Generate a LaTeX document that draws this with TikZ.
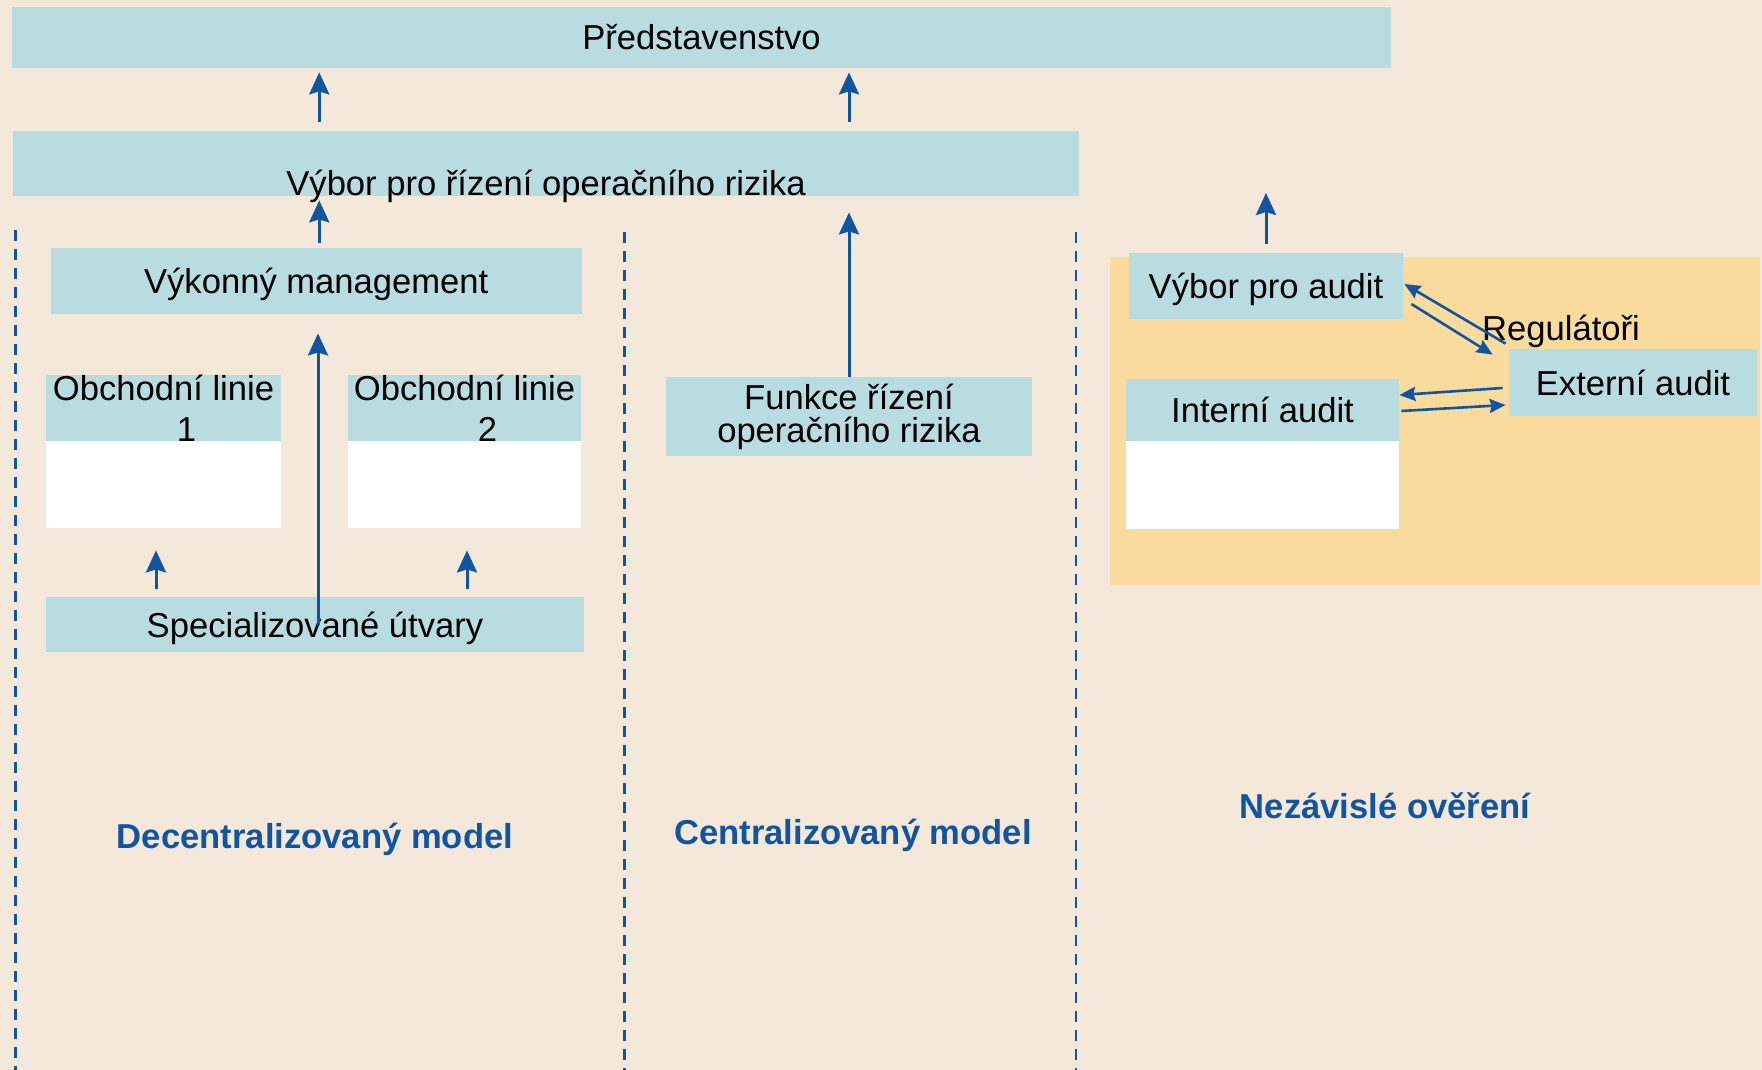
\documentclass[tikz,border=0pt]{standalone}
\usepackage{fontspec}
\setmainfont{Liberation Sans}
\usetikzlibrary{arrows.meta,calc}
\definecolor{paper}{RGB}{244,232,218}
\definecolor{tealbox}{RGB}{184,220,224}
\definecolor{orangezone}{RGB}{249,219,158}
\definecolor{navy}{RGB}{17,84,160}
\begin{document}
\begin{tikzpicture}[x=0.5pt,y=-0.5pt,
  every node/.style={font=\fontsize{17.3pt}{20pt}\selectfont},
  box/.style={fill=tealbox, inner sep=0pt, text height=12.5pt, text depth=0pt},
  mbox/.style={fill=tealbox, inner sep=0pt, align=center},
  blank/.style={fill=white, inner sep=0pt},
  arr/.style={draw=navy, line width=1.5pt, -{Stealth[length=11pt,width=10pt,inset=1.5pt]}},
  sarr/.style={draw=navy, line width=1.3pt, -{Stealth[length=8pt,width=7pt,inset=1pt]}},
  divider/.style={draw=navy, line width=1.3pt, dash pattern=on 5.5pt off 4pt},
  title/.style={text=navy, font=\fontsize{17.3pt}{20pt}\selectfont\bfseries, anchor=base},
]
% canvas
\path[use as bounding box, fill=paper] (0,0) rectangle (1762,1070);

% area of independent verification
\fill[orangezone] (1110,257) rectangle (1760,585);

% column dividers
\coordinate (d1t) at (15.5,230);  \coordinate (d1b) at (15.5,1070);
\coordinate (d2t) at (624.5,232); \coordinate (d2b) at (624.5,1070);
\coordinate (d3t) at (1076,232);  \coordinate (d3b) at (1076,1070);
\draw[divider] (d1t) -- (d1b);
\draw[divider] (d2t) -- (d2b);
\draw[divider] (d3t) -- (d3b);

% top levels
\node[box, minimum width=689.5pt, minimum height=30.5pt] (pred) at (701.5,37.5) {Představenstvo};
\node[fill=tealbox, inner sep=0pt, minimum width=533pt, minimum height=32.5pt,
      label={[anchor=base, inner sep=0pt, yshift=0.5pt]south:Výbor pro řízení operačního rizika}]
      (vybor) at (546,163.5) {};

% decentralised model
\node[box, minimum width=265.25pt, minimum height=33pt] (vykon) at (316.25,281) {Výkonný management};
\node[blank, minimum width=117.5pt, minimum height=44pt] (ob1w) at (163.5,484) {};
\node[blank, minimum width=116.5pt, minimum height=44pt] (ob2w) at (464.5,484) {};
\node[mbox, minimum width=117.5pt, minimum height=32pt,
      font=\fontsize{17.3pt}{20.5pt}\selectfont] (ob1) at (163.5,408) {Obchodní linie\\\hspace*{23pt}1};
\node[mbox, minimum width=116.5pt, minimum height=32pt,
      font=\fontsize{17.3pt}{20.5pt}\selectfont] (ob2) at (464.5,408) {Obchodní linie\\\hspace*{23pt}2};
\node[box, minimum width=269pt, minimum height=27.5pt] (spec) at (315,624.5) {Specializované útvary};

% centralised model
\node[mbox, minimum width=183pt, minimum height=39.5pt,
      font=\fontsize{17.3pt}{16.5pt}\selectfont] (funkce) at (849,416.5) {Funkce řízení\\operačního rizika};

% independent verification
\node[box, minimum width=137pt, minimum height=33pt] (vyaudit) at (1266,286) {Výbor pro audit};
\node[blank, minimum width=136.5pt, minimum height=44pt] (intw) at (1262.5,485) {};
\node[box, minimum width=136.5pt, minimum height=31pt] (int) at (1262.5,410) {Interní audit};
\node[box, minimum width=124pt, minimum height=33.5pt] (ext) at (1633,382.5) {Externí audit};
\node[anchor=base, inner sep=0pt] (reg) at (1561,340) {Regulátoři};
\coordinate (auditup) at (1266,193);

% reporting lines
\draw[arr, shorten <=4.5pt, shorten >=2pt] ($(vybor.north -| vykon.north)+(3,0)$) -- ($(pred.south -| vykon.north)+(3,0)$);
\draw[arr, shorten <=4.5pt, shorten >=2pt] (vybor.north -| funkce.north) -- (pred.south -| funkce.north);
\draw[arr, shorten <=2.5pt, shorten >=2pt] ($(vykon.north)+(3,0)$) -- ($(vybor.south -| vykon.north)+(3,0)$);
\draw[arr, shorten >=8pt] (funkce.north) -- (vybor.south -| funkce.north);
\draw[arr, shorten >=9.5pt] ($(spec.center)+(3,0)$) -- ($(vykon.south -| spec.center)+(3,0)$);
\draw[arr, shorten <=4pt, shorten >=11pt] ($(spec.north -| ob1w.south)+(-7.5,0)$) -- ($(ob1w.south)+(-7.5,0)$);
\draw[arr, shorten <=4pt, shorten >=11pt] ($(spec.north -| ob2w.south)+(2.5,0)$) -- ($(ob2w.south)+(2.5,0)$);
\draw[arr, shorten <=4.5pt] (vyaudit.north) -- (auditup);

% audit exchanges
\draw[sarr] ($(ext.north west)+(-3,-5)$) -- ($(vyaudit.east)+(1,-2)$);
\draw[sarr] ($(vyaudit.east)+(8,18)$) -- ($(ext.north west)+(-16,6)$);
\draw[sarr] ($(ext.west)+(-6,5.5)$) -- ($(int.east)+(0,-15)$);
\draw[sarr] ($(int.east)+(2,1)$) -- ($(ext.west)+(-3,22.5)$);

% column titles
\node[title] (tdec) at (315,848) {Decentralizovaný model};
\node[title] (tcen) at (853,844) {Centralizovaný model};
\node[title] (tind) at (1385,818) {Nezávislé ověření};
\end{tikzpicture}
\end{document}
